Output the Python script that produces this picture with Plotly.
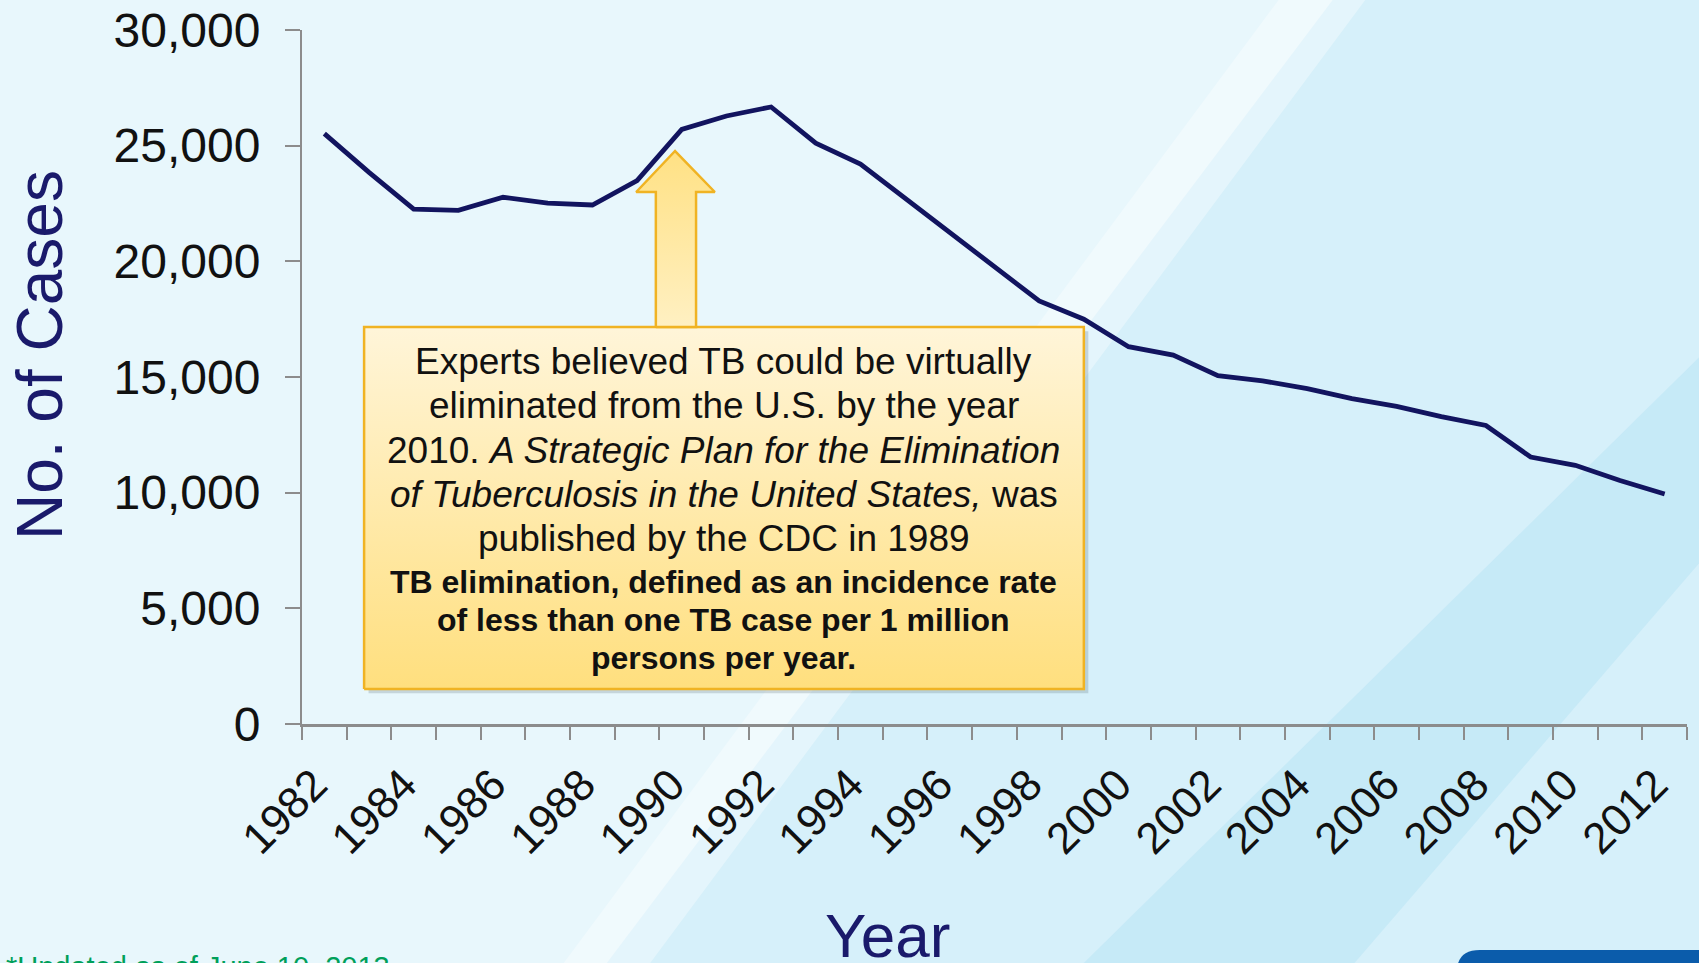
import plotly.graph_objects as go

# TB cases in the U.S., 1982-2012
years = list(range(1982, 2013))
cases = [25520, 23846, 22255, 22201, 22768, 22517, 22436, 23495, 25701, 26283,
         26673, 25107, 24205, 22727, 21210, 19751, 18287, 17499, 16309, 15945,
         15055, 14835, 14500, 14065, 13732, 13288, 12904, 11540, 11182, 10528, 9945]
tick_years = list(range(1982, 2013, 2))
y_ticks = [0, 5000, 10000, 15000, 20000, 25000, 30000]

main_lines = [
    "Experts believed TB could be virtually",
    "eliminated from the U.S. by the year",
    "2010. <i>A Strategic Plan for the Elimination</i>",
    "<i>of Tuberculosis in the United States,</i> was",
    "published by the CDC in 1989",
]
bold_lines = [
    "TB elimination, defined as an incidence rate",
    "of less than one TB case per 1 million",
    "persons per year.",
]

NAVY = "#12145f"
TITLE_NAVY = "#1a1a6b"
GOLD = "#f0b323"
AXIS_GRAY = "#8c8c8c"
SANS = "Liberation Sans, Arial, sans-serif"

W, H = 1699, 963
L, R, T, B = 302, 12, 30, 239
Y_MAX = 30000


def px(x):
    return (x - L) / (W - L - R)


def py(y):
    return (H - B - y) / (H - T - B)


def yv(y):
    # pixel row -> y-axis value (for placing callout text lines)
    return Y_MAX * py(y)


def paper_path(points):
    pts = [f"{px(x):.4f},{py(y):.4f}" for x, y in points]
    return "M " + " L ".join(pts) + " Z"


fig = go.Figure()

fig.add_trace(go.Scatter(x=years, y=cases, mode="lines",
                         line=dict(color=NAVY, width=4.8), hoverinfo="skip"))

# callout box (data coords) with drop shadow
bx0, bx1, by0, by1 = 1982.89, 1999.0, 1512, 17160
fig.add_trace(go.Scatter(x=[bx0 + 0.1, bx1 + 0.1, bx1 + 0.1, bx0 + 0.1, bx0 + 0.1],
                         y=[by0 - 180, by0 - 180, by1 - 180, by1 - 180, by0 - 180],
                         fill="toself", fillcolor="rgba(90,110,120,0.25)",
                         mode="lines", line=dict(width=0), hoverinfo="skip"))
fig.add_trace(go.Scatter(x=[bx0, bx1, bx1, bx0, bx0], y=[by0, by0, by1, by1, by0],
                         fill="toself", mode="lines",
                         fillgradient=dict(type="vertical",
                                           colorscale=[[0, "#ffdf7e"], [1, "#fff5d9"]]),
                         line=dict(color=GOLD, width=2.5), hoverinfo="skip"))

# block arrow pointing at 1990
ax = [1989.42, 1989.42, 1988.98, 1989.85, 1990.74, 1990.32, 1990.32, 1989.42]
ay = [by1, 22997, 22997, 24769, 22997, 22997, by1, by1]
fig.add_trace(go.Scatter(x=ax, y=ay, fill="toself", mode="lines",
                         fillgradient=dict(type="vertical",
                                           colorscale=[[0, "#fff0c2"], [1, "#ffe184"]]),
                         line=dict(color=GOLD, width=2.5), hoverinfo="skip"))

text_x = 1990.94
main_rows = [361, 405, 450, 494, 538]
bold_rows = [582, 620, 658]

annotations = []
for line, row in zip(main_lines, main_rows):
    annotations.append(dict(x=text_x, y=yv(row), xref="x", yref="y", text=line,
                            showarrow=False,
                            font=dict(family=SANS, size=37, color="#111111")))
for line, row in zip(bold_lines, bold_rows):
    annotations.append(dict(x=text_x, y=yv(row), xref="x", yref="y",
                            text=f"<b>{line}</b>", showarrow=False,
                            font=dict(family=SANS, size=32, color="#111111")))

annotations += [
    dict(x=px(40), y=py(355), xref="paper", yref="paper", text="No. of Cases",
         xanchor="center", yanchor="middle", textangle=-90, showarrow=False,
         font=dict(family=SANS, size=64, color=TITLE_NAVY)),
    dict(x=px(887), y=py(935), xref="paper", yref="paper", text="Year",
         xanchor="center", yanchor="middle", showarrow=False,
         font=dict(family=SANS, size=62, color=TITLE_NAVY)),
    dict(x=px(4), y=py(949), xref="paper", yref="paper", xanchor="left", yanchor="top",
         text="*Updated as of June 10, 2013", showarrow=False,
         font=dict(family=SANS, size=29, color="#00a05a")),
]

s = 1.0835  # shrunk-view to full pixel factor for background decoration
shapes = [
    dict(type="path", xref="paper", yref="paper", layer="below", line=dict(width=0),
         fillcolor="rgba(255,255,255,0.45)",
         path=paper_path([(0, 0), (1230 * s, 0), (560 * s, 889 * s), (0, 889 * s)])),
    dict(type="path", xref="paper", yref="paper", layer="below", line=dict(width=0),
         fillcolor="rgba(255,255,255,0.35)",
         path=paper_path([(1180 * s, 0), (1260 * s, 0), (600 * s, 889 * s), (520 * s, 889 * s)])),
    dict(type="path", xref="paper", yref="paper", layer="below", line=dict(width=0),
         fillcolor="rgba(150,215,240,0.25)",
         path=paper_path([(1000 * s, 889 * s), (1568 * s, 330 * s), (1568 * s, 520 * s),
                          (1250 * s, 889 * s)])),
    # corner of a navigation button at the bottom right
    dict(type="path", xref="paper", yref="paper", layer="above", line=dict(width=0),
         fillcolor="#0b5cab",
         path=(f"M {px(1457):.4f},{py(990):.4f} L {px(1457):.4f},{py(972):.4f} "
               f"Q {px(1457):.4f},{py(950):.4f} {px(1480):.4f},{py(950):.4f} "
               f"L {px(1720):.4f},{py(950):.4f} L {px(1720):.4f},{py(990):.4f} Z")),
]

fig.update_layout(
    width=W, height=H,
    margin=dict(l=L, r=R, t=T, b=B, autoexpand=False),
    paper_bgcolor="#d6f0fa",
    plot_bgcolor="rgba(0,0,0,0)",
    showlegend=False,
    annotations=annotations,
    shapes=shapes,
    xaxis=dict(range=[1981.5, 2012.5], tickmode="array", tickvals=tick_years,
               ticktext=[str(y) for y in tick_years], tickangle=-45, ticks="",
               ticklabelstandoff=14, ticklabelshift=-10, automargin=False,
               tickfont=dict(family=SANS, size=44, color="#111111"),
               showline=True, linecolor=AXIS_GRAY, linewidth=3, showgrid=False,
               zeroline=False,
               minor=dict(ticks="outside", tick0=1981.5, dtick=1, ticklen=13,
                          tickwidth=2, tickcolor=AXIS_GRAY, showgrid=False)),
    yaxis=dict(range=[0, Y_MAX], tickmode="array", tickvals=y_ticks, tickformat=",",
               ticks="outside", ticklen=15, tickwidth=2, tickcolor=AXIS_GRAY,
               ticklabelstandoff=15, automargin=False,
               tickfont=dict(family=SANS, size=48, color="#111111"),
               showline=True, linecolor=AXIS_GRAY, linewidth=2, showgrid=False,
               zeroline=False),
)

fig.write_html("out.html", config={"displayModeBar": False},
               post_script="document.body.style.margin='0';document.body.style.overflow='hidden';")
